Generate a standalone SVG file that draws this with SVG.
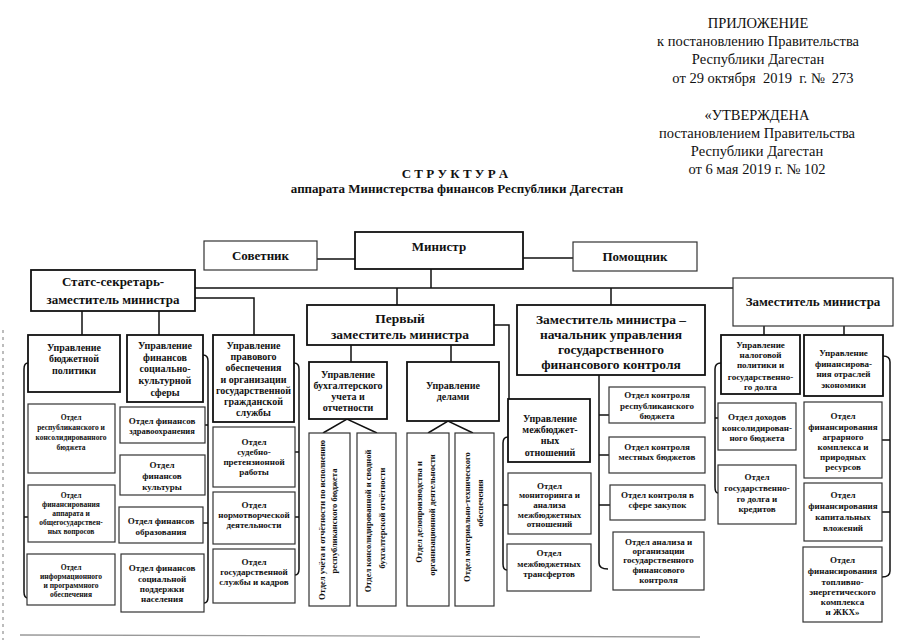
<svg xmlns="http://www.w3.org/2000/svg" width="905" height="640" viewBox="0 0 905 640">
<style>
text { font-family: "Liberation Serif", "Times New Roman", serif; font-weight: bold; fill: #111; text-anchor: middle; }
.hd { font-weight: normal; font-size: 14.5px; }
.tt { font-size: 13px; }
.t13 { font-size: 13px; }
.t135 { font-size: 13.5px; }
.u { font-size: 10px; }
.s9 { font-size: 9px; }
.s8 { font-size: 8.5px; }
.s75 { font-size: 7.5px; }
.b { fill: #fff; stroke: #111; stroke-width: 1.8; }
.s { fill: #fff; stroke: #333; stroke-width: 1.2; }
.c { fill: none; stroke: #111; stroke-width: 1.5; }
.art { fill: none; stroke: #999; stroke-width: 1.3; }
</style>

<g id="header">
<text class="hd" x="758" y="28">ПРИЛОЖЕНИЕ</text>
<text class="hd" x="758" y="46">к постановлению Правительства</text>
<text class="hd" x="758" y="64">Республики Дагестан</text>
<text class="hd" x="763" y="83" xml:space="preserve">от 29 октября  2019  г. №  273</text>
<text class="hd" x="757" y="120">«УТВЕРЖДЕНА</text>
<text class="hd" x="757" y="138">постановлением Правительства</text>
<text class="hd" x="757" y="156">Республики Дагестан</text>
<text class="hd" x="757" y="174">от 6 мая 2019 г. № 102</text>
<text class="tt" x="455" y="178" xml:space="preserve">С Т Р У К Т У Р А</text>
<text class="tt" x="457" y="193">аппарата Министерства финансов Республики Дагестан</text>
</g>

<g id="connectors">
<path class="c" d="M317,259 H355 M523,258 H573"/>
<path class="c" d="M431,269 V288 M195,288 H733"/>
<path class="c" d="M397,288 V305 M611,288 V305"/>
<path class="c" d="M82,311 V335 M159,311 V335 M195,298 H254 V335"/>
<path class="c" d="M764,326 V335 M844,326 V335"/>
<path class="c" d="M494,325 H509 V399"/>
<path class="c" d="M351,345 V362 M451,345 V362"/>
<path class="c" d="M323,433 L347,419 L377,433 M428,433 L448,421 L473,433"/>
<!-- brackets -->
<path class="c" d="M28,363 Q24,363 24,369 V592 Q24,598 28,598 M24,517 H28"/>
<path class="c" d="M203,355 Q208,355 208,361 V597 Q208,603 204,603 M205,425 H208 M203,523 H208"/>
<path class="c" d="M294,363 Q299,363 299,369 V569 Q299,575 295,575 M295,452 H299 M295,517 H299"/>
<path class="c" d="M508,437 Q503,437 503,443 V564 Q503,570 507,570 M503,505 H508"/>
<path class="c" d="M599,375 V563 Q599,569 608,569 M599,415 H609 M599,455 H609 M599,505 H610"/>
<path class="c" d="M721,363 Q715,363 715,369 V487 Q715,493 718,493 M715,418 H718"/>
<path class="c" d="M883,356 Q890,356 890,362 V571 Q890,577 882,577 M882,440 H890 M882,512 H890"/>
</g>

<g id="sovetnik"><rect class="s" x="204" y="241" width="113" height="29"/><text class="t13" x="260.5" y="260">Советник</text></g>
<g id="ministr"><rect class="b" x="355" y="232" width="168" height="37"/><text class="t13" x="439" y="251">Министр</text></g>
<g id="pomoshnik"><rect class="s" x="573" y="242" width="124" height="29"/><text class="t13" x="635" y="261">Помощник</text></g>
<g id="stats"><rect class="b" x="31" y="270" width="164" height="41"/><text class="t13" x="113" y="286">Статс-секретарь-</text><text class="t13" x="113" y="304">заместитель министра</text></g>
<g id="perviy"><rect class="b" x="307" y="305" width="187" height="40"/><text class="t135" x="400" y="323">Первый</text><text class="t135" x="400" y="339">заместитель министра</text></g>
<g id="zam-kontrol"><rect class="b" x="517" y="305" width="188" height="70"/>
<text class="t135" x="611" y="324">Заместитель министра –</text>
<text class="t135" x="611" y="339">начальник управления</text>
<text class="t135" x="611" y="354">государственного</text>
<text class="t135" x="611" y="369">финансового контроля</text></g>
<g id="zam"><rect class="s" x="733" y="278" width="160" height="48"/><text class="t13" x="813" y="306">Заместитель министра</text></g>

<!-- column 1 -->
<g id="upr-budget"><rect class="b" x="28" y="335" width="92" height="57"/>
<text class="u" x="74" y="351">Управление</text><text class="u" x="74" y="362">бюджетной</text><text class="u" x="74" y="374">политики</text></g>
<g id="otd-resp"><rect class="s" x="28" y="404" width="87" height="69"/>
<text class="s75" x="71" y="420">Отдел</text><text class="s75" x="71" y="430">республиканского и</text><text class="s75" x="71" y="440">консолидированного</text><text class="s75" x="71" y="450">бюджета</text></g>
<g id="otd-apparat"><rect class="s" x="28" y="485" width="87" height="57"/>
<text class="s75" x="71" y="498">Отдел</text><text class="s75" x="71" y="507">финансирования</text><text class="s75" x="71" y="516">аппарата и</text><text class="s75" x="71" y="525">общегосударствен-</text><text class="s75" x="71" y="534">ных вопросов</text></g>
<g id="otd-inform"><rect class="s" x="27" y="554" width="88" height="51"/>
<text class="s75" x="71" y="570">Отдел</text><text class="s75" x="71" y="579">информационного</text><text class="s75" x="71" y="588">и программного</text><text class="s75" x="71" y="597">обеспечения</text></g>

<!-- column 2 -->
<g id="upr-soc"><rect class="b" x="127" y="335" width="76" height="67"/>
<text class="u" x="165" y="349">Управление</text><text class="u" x="165" y="361">финансов</text><text class="u" x="165" y="372">социально-</text><text class="u" x="165" y="384">культурной</text><text class="u" x="165" y="396">сферы</text></g>
<g id="otd-zdrav"><rect class="s" x="120" y="407" width="85" height="36"/>
<text class="s9" x="162" y="424">Отдел финансов</text><text class="s8" x="162" y="434">здравоохранения</text></g>
<g id="otd-kult"><rect class="s" x="120" y="455" width="85" height="40"/>
<text class="s9" x="162" y="468">Отдел</text><text class="s9" x="162" y="479">финансов</text><text class="s9" x="162" y="490">культуры</text></g>
<g id="otd-obraz"><rect class="s" x="119" y="507" width="84" height="36"/>
<text class="s9" x="161" y="524">Отдел финансов</text><text class="s9" x="161" y="535">образования</text></g>
<g id="otd-socpod"><rect class="s" x="121" y="554" width="83" height="58"/>
<text class="s9" x="162" y="571">Отдел финансов</text><text class="s9" x="162" y="582">социальной</text><text class="s9" x="162" y="592">поддержки</text><text class="s9" x="162" y="602">населения</text></g>

<!-- column 3 -->
<g id="upr-prav"><rect class="b" x="213" y="335" width="81" height="87"/>
<text class="u" x="253.5" y="349">Управление</text><text class="u" x="253.5" y="360">правового</text><text class="u" x="253.5" y="371">обеспечения</text><text class="u" x="253.5" y="383">и организации</text><text class="u" x="253.5" y="394">государственной</text><text class="u" x="253.5" y="405">гражданской</text><text class="u" x="253.5" y="416">службы</text></g>
<g id="otd-sud"><rect class="s" x="213" y="427" width="82" height="60"/>
<text class="s9" x="254" y="445">Отдел</text><text class="s9" x="254" y="455">судебно-</text><text class="s9" x="254" y="465">претензионной</text><text class="s9" x="254" y="475">работы</text></g>
<g id="otd-norm"><rect class="s" x="213" y="492" width="82" height="52"/>
<text class="s9" x="254" y="508">Отдел</text><text class="s9" x="254" y="518">нормотворческой</text><text class="s9" x="254" y="528">деятельности</text></g>
<g id="otd-kadr"><rect class="s" x="213" y="549" width="82" height="54"/>
<text class="s9" x="254" y="565">Отдел</text><text class="s9" x="254" y="575">государственной</text><text class="s9" x="254" y="585">службы и кадров</text></g>

<!-- first deputy -->
<g id="upr-buh"><rect class="b" x="309" y="362" width="78" height="57"/>
<text class="u" x="348" y="378">Управление</text><text class="u" x="348" y="389">бухгалтерского</text><text class="u" x="348" y="400">учета и</text><text class="u" x="348" y="411">отчетности</text></g>
<g id="upr-del"><rect class="b" x="407" y="362" width="92" height="59"/>
<text class="u" x="453" y="389">Управление</text><text class="u" x="453" y="400">делами</text></g>
<g id="otd-uchet"><rect class="s" x="309" y="433" width="41" height="173"/>
<text class="s8" transform="translate(325,520) rotate(-90)">Отдел учёта и отчётности по исполнению</text>
<text class="s8" transform="translate(337,521) rotate(-90)">республиканского бюджета</text></g>
<g id="otd-svod"><rect class="s" x="357" y="433" width="39" height="173"/>
<text class="s8" transform="translate(371,521) rotate(-90)">Отдел консолидированной и сводной</text>
<text class="s8" transform="translate(385,518) rotate(-90)">бухгалтерской отчётности</text></g>
<g id="otd-delo"><rect class="s" x="407" y="433" width="42" height="173"/>
<text class="s8" transform="translate(422,512) rotate(-90)">Отдел делопроизводства и</text>
<text class="s8" transform="translate(435,515) rotate(-90)">организационной деятельности</text></g>
<g id="otd-mto"><rect class="s" x="455" y="433" width="39" height="173"/>
<text class="s8" transform="translate(470,517) rotate(-90)">Отдел материально-технического</text>
<text class="s8" transform="translate(483,503) rotate(-90)">обеспечения</text></g>

<!-- mezhbudget -->
<g id="upr-mezh"><rect class="b" x="508" y="399" width="82" height="63"/>
<text class="u" x="550" y="422">Управление</text><text class="u" x="550" y="433">межбюджет-</text><text class="u" x="550" y="444">ных</text><text class="u" x="550" y="456">отношений</text></g>
<g id="otd-monitor"><rect class="s" x="508" y="473" width="83" height="61"/>
<text class="s9" x="549.5" y="489">Отдел</text><text class="s9" x="549.5" y="498">мониторинга и</text><text class="s9" x="549.5" y="508">анализа</text><text class="s9" x="549.5" y="518">межбюджетных</text><text class="s9" x="549.5" y="527">отношений</text></g>
<g id="otd-transfer"><rect class="s" x="507" y="544" width="84" height="47"/>
<text class="s9" x="549" y="556">Отдел</text><text class="s9" x="549" y="567">межбюджетных</text><text class="s9" x="549" y="577">трансфертов</text></g>

<!-- kontrol -->
<g id="otd-k-resp"><rect class="s" x="609" y="387" width="96" height="36"/>
<text class="s9" x="657" y="398">Отдел контроля</text><text class="s9" x="657" y="409">республиканского</text><text class="s9" x="657" y="419">бюджета</text></g>
<g id="otd-k-mest"><rect class="s" x="609" y="437" width="96" height="36"/>
<text class="s9" x="657" y="450">Отдел контроля</text><text class="s9" x="657" y="460">местных бюджетов</text></g>
<g id="otd-k-zak"><rect class="s" x="610" y="485" width="95" height="35"/>
<text class="s9" x="657.5" y="498">Отдел контроля в</text><text class="s9" x="657.5" y="508">сфере закупок</text></g>
<g id="otd-k-anal"><rect class="s" x="613" y="532" width="91" height="58"/>
<text class="s9" x="658.5" y="545">Отдел анализа и</text><text class="s9" x="658.5" y="554">организации</text><text class="s9" x="658.5" y="563">государственного</text><text class="s9" x="658.5" y="573">финансового</text><text class="s9" x="658.5" y="583">контроля</text></g>

<!-- right deputy -->
<g id="upr-nalog"><rect class="b" x="721" y="335" width="79" height="59"/>
<text class="s9" x="760.5" y="348">Управление</text><text class="s9" x="760.5" y="358">налоговой</text><text class="s9" x="760.5" y="368">политики и</text><text class="s9" x="760.5" y="380">государственно-</text><text class="s9" x="760.5" y="390">го долга</text></g>
<g id="upr-otrasl"><rect class="b" x="804" y="335" width="79" height="61"/>
<text class="s9" x="843.5" y="356">Управление</text><text class="s9" x="843.5" y="367">финансирова-</text><text class="s9" x="843.5" y="377">ния отраслей</text><text class="s9" x="843.5" y="388">экономики</text></g>
<g id="otd-dohod"><rect class="s" x="718" y="403" width="78" height="47"/>
<text class="s9" x="757" y="420">Отдел доходов</text><text class="s9" x="757" y="431">консолидирован-</text><text class="s9" x="757" y="441">ного бюджета</text></g>
<g id="otd-dolg"><rect class="s" x="718" y="465" width="78" height="59"/>
<text class="s9" x="757" y="480">Отдел</text><text class="s9" x="757" y="491">государственно-</text><text class="s9" x="757" y="502">го долга и</text><text class="s9" x="757" y="512">кредитов</text></g>
<g id="otd-agrar"><rect class="s" x="804" y="402" width="78" height="76"/>
<text class="s9" x="843" y="419">Отдел</text><text class="s9" x="843" y="430">финансирования</text><text class="s9" x="843" y="440">аграрного</text><text class="s9" x="843" y="450">комплекса и</text><text class="s9" x="843" y="460">природных</text><text class="s9" x="843" y="470">ресурсов</text></g>
<g id="otd-kap"><rect class="s" x="804" y="483" width="78" height="58"/>
<text class="s9" x="843" y="498">Отдел</text><text class="s9" x="843" y="509">финансирования</text><text class="s9" x="843" y="520">капитальных</text><text class="s9" x="843" y="531">вложений</text></g>
<g id="otd-tek"><rect class="s" x="803" y="547" width="79" height="75"/>
<text class="s9" x="842.5" y="563">Отдел</text><text class="s9" x="842.5" y="574">финансирования</text><text class="s9" x="842.5" y="585">топливно-</text><text class="s9" x="842.5" y="595">энергетического</text><text class="s9" x="842.5" y="605">комплекса</text><text class="s9" x="842.5" y="615">и ЖКХ»</text></g>

<g id="scan-edges">
<path class="art" d="M20,635 L700,637"/>
<path class="art" stroke-dasharray="3 4" d="M3,330 V640"/>
</g>
</svg>
